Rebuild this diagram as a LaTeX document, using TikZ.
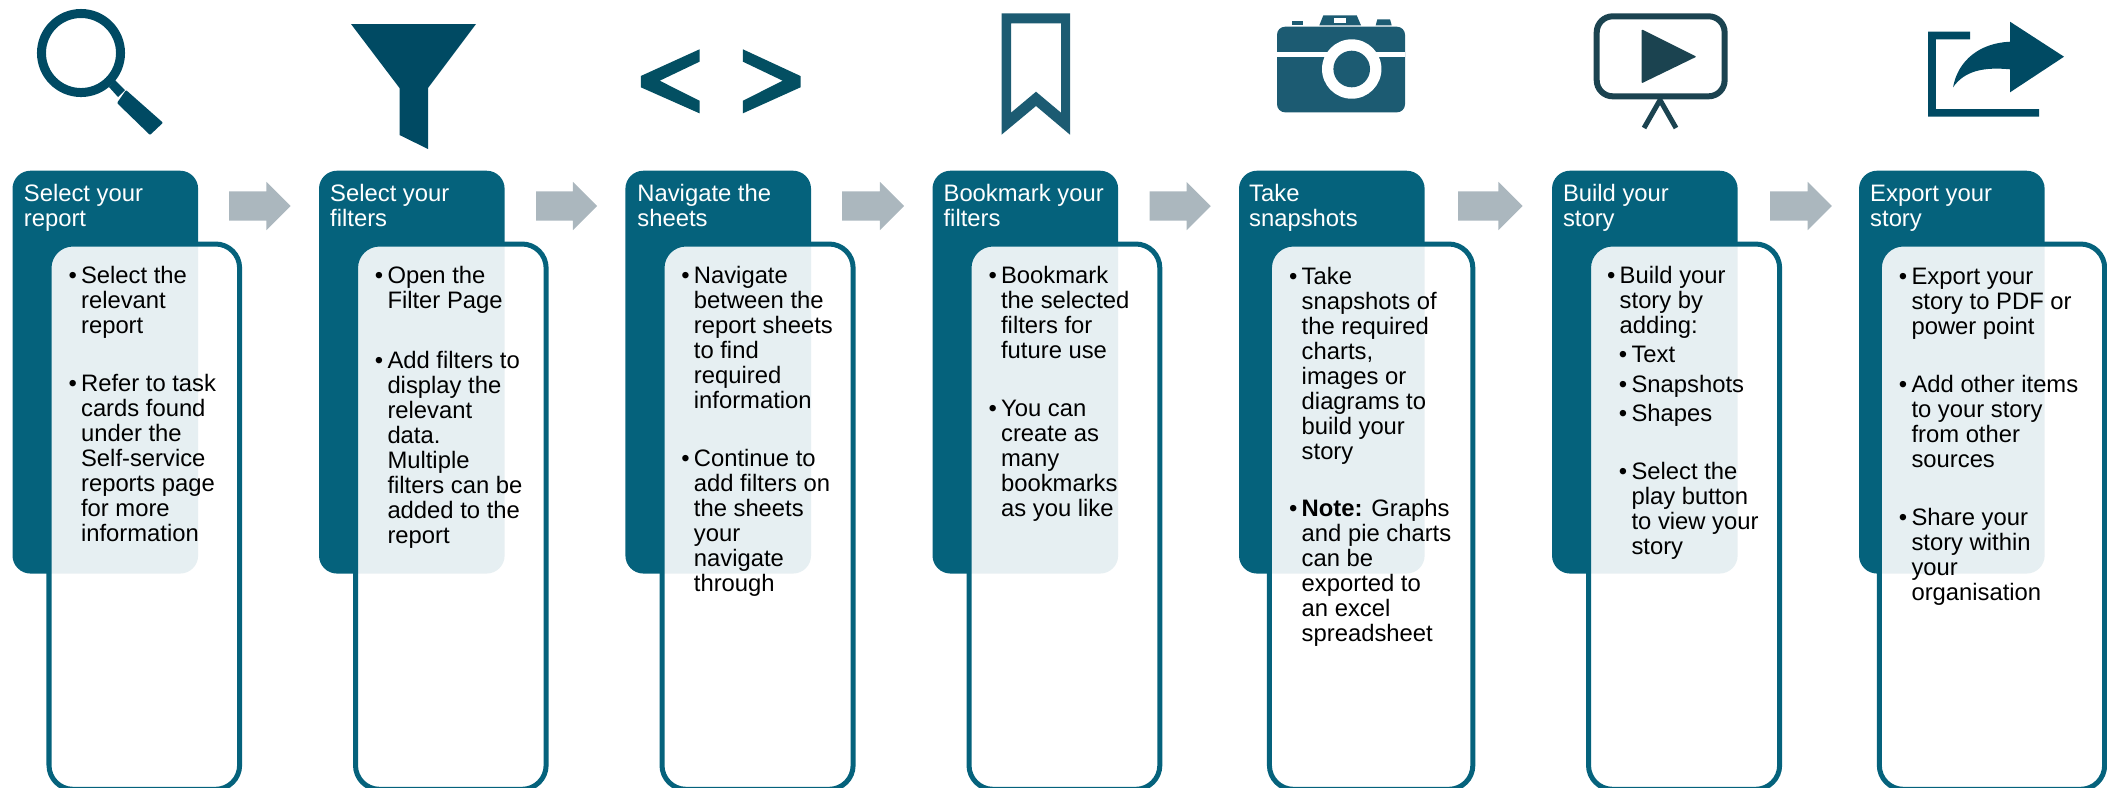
\documentclass[tikz,border=0pt]{standalone}
\usepackage{fontspec}
\setmainfont{Liberation Sans}
\usepackage{xcolor}
\usetikzlibrary{shapes.arrows}

\definecolor{tealbox}{HTML}{05627C}
\definecolor{arrowgray}{HTML}{ABB7BE}
\definecolor{icondark}{HTML}{004A63}
\definecolor{iconcode}{HTML}{034F62}
\definecolor{iconmid}{HTML}{1C5B72}
\definecolor{iconplay}{HTML}{1B4350}

\newcommand{\bul}{\leavevmode\rule{0pt}{5.12pt}\llap{\textbullet\hspace{1.2pt}}}
\newcommand{\ind}{\hspace*{3.36pt}}
\newcommand{\hd}{\rule{0pt}{5.12pt}}

\tikzset{
	headbox/.style={rectangle, rounded corners=0.18cm, fill=tealbox, anchor=north west, outer sep=0pt, inner sep=0pt, minimum width=1.855cm, minimum height=4.026cm},
	bodybox/.style={rectangle, rounded corners=0.24cm, draw=tealbox, line width=0.05cm, fill=white, fill opacity=0.9, anchor=north west, outer sep=0pt, inner sep=0pt, minimum height=5.45cm},
	headtext/.style={anchor=north west, inner sep=0pt, align=left, text=white, font=\fontsize{6.77}{7.11}\selectfont},
	bodytext/.style={anchor=north west, inner sep=0pt, align=left, text=black, font=\fontsize{6.77}{7.11}\selectfont},
	steparrow/.style={single arrow, fill=arrowgray, anchor=tail, inner xsep=0pt, inner ysep=0.14cm, outer sep=0pt, minimum width=0.47cm, single arrow head extend=0.095cm, single arrow tip angle=90}
}

\begin{document}
\begin{tikzpicture}[x=0.01cm,y=-0.01cm]
\useasboundingbox (0,0) rectangle (2107,787);

% boxes
\foreach \n/\x in {1/12.5,2/319,3/625.4,4/932.5,5/1239,6/1552,7/1859}
	\node[headbox] (head\n) at (\x,170.7) {};
\foreach \n/\x/\w in {1/49/1.905,2/355.5/1.905,3/662/1.91,4/969/1.907,5/1269.4/2.033,6/1588.5/1.91,7/1879.3/2.252}
	\node[bodybox, minimum width=\w cm] (body\n) at (\x,244) {};

% arrows
\foreach \n/\x/\l in {1/229/0.616,2/536/0.61,3/842/0.62,4/1149.5/0.612,5/1458/0.646,6/1770/0.617}
	\node[steparrow, minimum height=\l cm] (arrow\n) at (\x,206) {};

% headings
\node[headtext] (title1) at (23.2,183) {\hd Select your\\report};
\node[headtext] (title2) at (329.5,183) {\hd Select your\\filters};
\node[headtext] (title3) at (636.7,183) {\hd Navigate the\\sheets};
\node[headtext] (title4) at (942.9,183) {\hd Bookmark your\\filters};
\node[headtext] (title5) at (1248.5,183) {\hd Take\\snapshots};
\node[headtext] (title6) at (1562.3,183) {\hd Build your\\story};
\node[headtext] (title7) at (1869.5,183) {\hd Export your\\story};

% lists
\node[bodytext] (list1) at (80.4,264.7) {\bul Select the\\relevant\\report\\[9.4pt]
	\bul Refer to task\\cards found\\under the\\Self-service\\reports page\\for more\\information};
\node[bodytext] (list2) at (386.8,264.7) {\bul Open the\\Filter Page\\[9.9pt]
	\bul Add filters to\\display the\\relevant\\data.\\Multiple\\filters can be\\added to the\\report};
\node[bodytext] (list3) at (693.2,264.7) {\bul Navigate\\between the\\report sheets\\to find\\required\\information\\[9.3pt]
	\bul Continue to\\add filters on\\the sheets\\your\\navigate\\through};
\node[bodytext] (list4) at (1000.4,264.7) {\bul Bookmark\\the selected\\filters for\\future use\\[9.3pt]
	\bul You can\\create as\\many\\bookmarks\\as you like};
\node[bodytext] (list5) at (1301,265.3) {\bul Take\\snapshots of\\the required\\charts,\\images or\\diagrams to\\build your\\story\\[9.3pt]
	\bul \textbf{Note:} Graphs\\and pie charts\\can be\\exported to\\an excel\\spreadsheet};
\node[bodytext] (list6) at (1619,264.7) {\bul Build your\\story by\\adding:\\[1.2pt]
	\ind\bul Text\\[1.3pt]
	\ind\bul Snapshots\\[1.3pt]
	\ind\bul Shapes\\[9.3pt]
	\ind\bul Select the\\\ind play button\\\ind to view your\\\ind story};
\node[bodytext] (list7) at (1910.8,265.3) {\bul Export your\\story to PDF or\\power point\\[9.4pt]
	\bul Add other items\\to your story\\from other\\sources\\[9.4pt]
	\bul Share your\\story within\\your\\organisation};

% magnifier
\draw[icondark, line width=0.09cm] (81,53) circle (0.395cm);
\fill[icondark] (115,80) -- (109,87) -- (118,97) -- (125,90) -- cycle;
\fill[icondark, rounded corners=0.01cm] (126,90) -- (163,122.7) -- (150,135) -- (117,103) -- cycle;

% funnel
\fill[icondark] (351,24) -- (476,24) -- (428,88) -- (428,149) -- (399.5,135) -- (399.5,88) -- cycle;

% code brackets
\fill[iconcode] (699.5,49.3) -- (640.8,76) -- (640.8,87.3) -- (699.5,113.3) -- (699.5,100.7) -- (659.7,80.7) -- (699.5,61.7) -- cycle;
\fill[iconcode] (742.9,49.3) -- (800.5,76) -- (800.5,87.3) -- (742.9,113.3) -- (742.9,100.7) -- (782.7,80.7) -- (742.9,61.7) -- cycle;

% bookmark
\fill[iconmid, even odd rule] (1001.5,13.3) -- (1070,13.3) -- (1070,134.7) -- (1036,106) -- (1001.5,134.7) -- cycle
	(1011,23.3) -- (1061,23.3) -- (1061,112.7) -- (1036,91.7) -- (1011,112.7) -- cycle;

% camera
\fill[iconmid, rounded corners=0.08cm] (1277,26.7) rectangle (1405,112.3);
\fill[iconmid] (1319.3,25.3) -- (1323.3,15.3) -- (1356.7,15.3) -- (1361,25.3) -- cycle;
\fill[white] (1334,18.3) rectangle (1346,23.3);
\fill[iconmid] (1292,21) rectangle (1302.7,25.3);
\fill[iconmid] (1375.7,25.3) -- (1377.3,19.3) -- (1390,19.3) -- (1391.7,25.3) -- cycle;
\fill[white] (1277,52.3) rectangle (1405,57.3);
\fill[white] (1351.7,69) circle (0.297cm);
\fill[iconmid] (1351.7,69) circle (0.183cm);

% screen
\draw[iconplay, line width=0.06cm, rounded corners=0.16cm] (1596.7,16.3) rectangle (1724.6,96.3);
\fill[iconplay, rounded corners=0.01cm] (1641.6,29.3) -- (1696.4,56.7) -- (1641.6,83.3) -- cycle;
\draw[iconplay, line width=0.05cm] (1644,128) -- (1660,100) -- (1676,128);

% share
\fill[icondark] (1928,31.7) -- (1970,31.7) -- (1970,39.3) -- (1935.8,39.3) -- (1935.8,109) -- (2039,109) -- (2039,116.7) -- (1928,116.7) -- cycle;
\fill[icondark] (1953,87.3) .. controls (1958,60) and (1980,43) .. (2010,41.7) -- (2010,21.7) -- (2064,56.7) -- (2010,92.3) -- (2010,69.3) .. controls (1985,67) and (1965,70) .. (1953,87.3) -- cycle;

\end{tikzpicture}
\end{document}
